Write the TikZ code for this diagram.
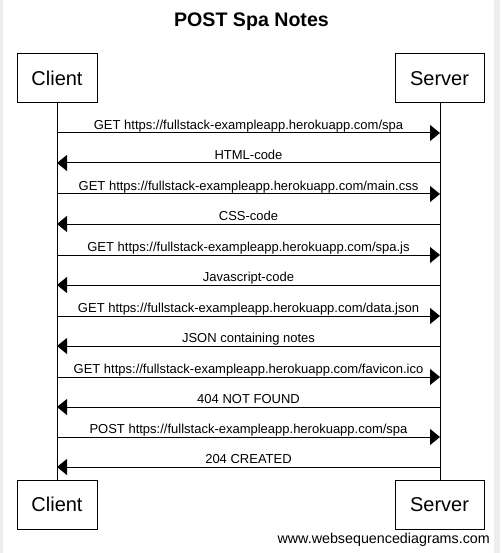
\documentclass[tikz,border=0pt]{standalone}
\usepackage{fontspec}
\setmainfont{Liberation Sans}
\usetikzlibrary{arrows.meta}
\begin{document}
\begin{tikzpicture}[x=1pt,y=-1pt,
  actor/.style={draw=black,line width=1pt,fill=white,minimum width=80pt,minimum height=49pt,inner sep=0pt,font=\fontsize{20}{24}\selectfont},
  actorwide/.style={actor,minimum width=89pt},
  msg/.style={line width=1pt,-{Triangle[length=10pt,width=16pt]}},
  lbl/.style={font=\fontsize{13}{15}\selectfont,inner sep=0pt,anchor=base},
  life/.style={line width=1pt}]
\useasboundingbox (0,0) rectangle (500,553);
\fill[white] (0,0) rectangle (500,553);
\fill[black!7] (0,0) rectangle (3,553);
\fill[black!7] (494,0) rectangle (500,553);
\node[font=\bfseries\fontsize{19.6}{23}\selectfont] (title) at (251.5,22) {POST Spa Notes};
% lifelines
\coordinate (ct) at (57,103);
\coordinate (cb) at (57,480);
\coordinate (st) at (440,103);
\coordinate (sb) at (440,480);
\draw[life] (ct) -- (cb);
\draw[life] (st) -- (sb);
\node[actor] (c1) at (57,78.5) {Client};
\node[actorwide] (s1) at (439.5,78.5) {Server};
\node[actor] (c2) at (57,504.5) {Client};
\node[actorwide] (s2) at (439.5,504.5) {Server};
% messages
\foreach \y/\dir/\t [count=\i] in {
  133/r/{GET https://fullstack-exampleapp.herokuapp.com/spa},
  163/l/{HTML-code},
  194/r/{GET https://fullstack-exampleapp.herokuapp.com/main.css},
  224/l/{CSS-code},
  255/r/{GET https://fullstack-exampleapp.herokuapp.com/spa.js},
  285/l/{Javascript-code},
  316/r/{GET https://fullstack-exampleapp.herokuapp.com/data.json},
  346/l/{JSON containing notes},
  377/r/{GET https://fullstack-exampleapp.herokuapp.com/favicon.ico},
  407/l/{404 NOT FOUND},
  437/r/{POST https://fullstack-exampleapp.herokuapp.com/spa},
  467/l/{204 CREATED}}{
  \coordinate (a\i) at (57,\y);
  \coordinate (b\i) at (440,\y);
  \if r\dir
    \draw[msg] (a\i) -- (b\i);
  \else
    \draw[msg] (b\i) -- (a\i);
  \fi
  \node[lbl] (m\i) at (248.5,\y-3.8) {\t};
}
\node[font=\fontsize{14.3}{17}\selectfont,anchor=base east,inner sep=0pt] (wsd) at (490,543) {www.websequencediagrams.com};
\end{tikzpicture}
\end{document}
